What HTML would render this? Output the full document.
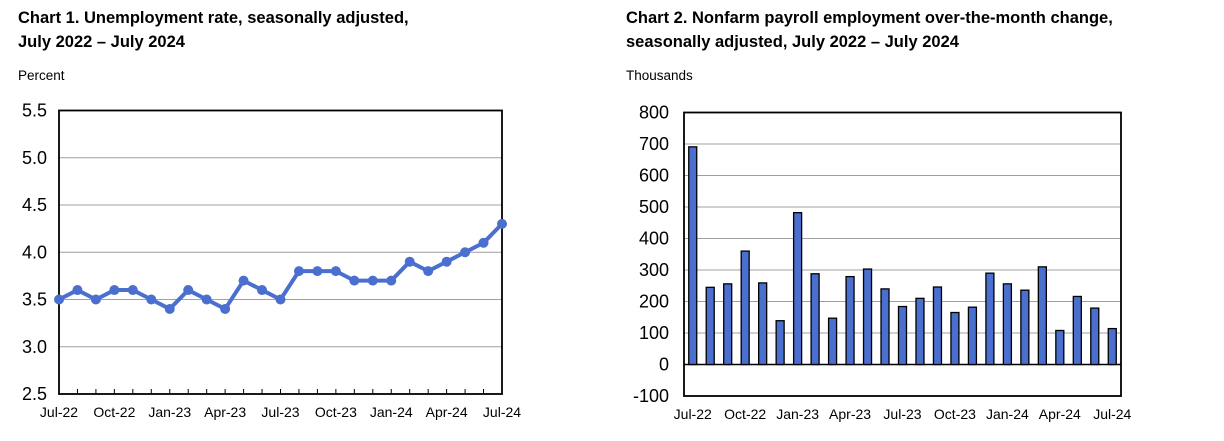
<!DOCTYPE html>
<html><head><meta charset="utf-8"><style>
body{margin:0;background:#fff;width:1224px;height:441px;overflow:hidden;font-family:"Liberation Sans",Arial,sans-serif}
.t{position:absolute;font-weight:bold;font-size:16.5px;line-height:24px;color:#000}
</style></head><body>
<div class="t" style="left:18px;top:6px">Chart 1. Unemployment rate, seasonally adjusted,<br>July 2022 – July 2024</div>
<div class="t" style="left:626px;top:6px">Chart 2. Nonfarm payroll employment over-the-month change,<br>seasonally adjusted, July 2022 – July 2024</div>
<svg id="s" width="1224" height="441" style="position:absolute;left:0;top:0" font-family="Liberation Sans, Arial, sans-serif"></svg>
<script>
const months=["Jul-22","Aug-22","Sep-22","Oct-22","Nov-22","Dec-22","Jan-23","Feb-23","Mar-23","Apr-23","May-23","Jun-23","Jul-23","Aug-23","Sep-23","Oct-23","Nov-23","Dec-23","Jan-24","Feb-24","Mar-24","Apr-24","May-24","Jun-24","Jul-24"];
const unemp=[3.5,3.6,3.5,3.6,3.6,3.5,3.4,3.6,3.5,3.4,3.7,3.6,3.5,3.8,3.8,3.8,3.7,3.7,3.7,3.9,3.8,3.9,4.0,4.1,4.3];
const payroll=[691,245,256,360,259,139,482,288,147,279,303,240,184,210,246,165,182,290,256,236,310,108,216,179,114];
const ticks1=["2.5","3.0","3.5","4.0","4.5","5.0","5.5"];
const ticks2=["-100","0","100","200","300","400","500","600","700","800"];
const NS="http://www.w3.org/2000/svg",svg=document.getElementById('s');
function mk(t,a,txt,p){const e=document.createElementNS(NS,t);for(const k in a)e.setAttribute(k,a[k]);if(txt!=null)e.textContent=txt;(p||svg).appendChild(e);return e;}
// Chart 1
const L1=59,R1=502,T1=110.5,B1=394;
const y1=v=>B1-(v-2.5)/3*(B1-T1);
const x1=i=>L1+i*(R1-L1)/(months.length-1);
let e=mk('text',{x:18,y:80,'font-size':13.5},'Percent');


ticks1.forEach(t=>{const v=+t,y=y1(v);
 if(v>2.5&&v<5.5){const g=mk('line',{x1:L1,x2:R1,y1:y,y2:y,stroke:'#a0a0a0','stroke-width':1});}
 const l=mk('text',{x:47,y:y+6,'font-size':18,'text-anchor':'end'},t);
 
 });
e=mk('rect',{x:L1,y:T1,width:R1-L1,height:B1-T1,fill:'none',stroke:'#000','stroke-width':1.8});


months.forEach((m,i)=>{const x=x1(i);mk('line',{x1:x,x2:x,y1:B1,y2:B1-5,stroke:'#000','stroke-width':1});
 if(i%3==0){const l=mk('text',{x:x,y:417,'font-size':14,'text-anchor':'middle'},m);
 
 }});
e=mk('polyline',{points:unemp.map((v,i)=>x1(i)+','+y1(v)).join(' '),fill:'none',stroke:'#4a6fcf','stroke-width':4,'stroke-linejoin':'round'});


unemp.forEach((v,i)=>{const c=mk('circle',{cx:x1(i),cy:y1(v),r:5,fill:'#4a6fcf'});
 
 });
// Chart 2
const L2=684,R2=1121,T2=112.5,B2=396;
const y2=v=>B2-(v+100)/900*(B2-T2);
const slot=(R2-L2)/months.length;
const x2=i=>L2+slot*(i+0.5);
e=mk('text',{x:626,y:80,'font-size':13.5},'Thousands');


ticks2.forEach(t=>{const v=+t,y=y2(v);
 if(v>-100&&v<800){const g=mk('line',{x1:L2,x2:R2,y1:y,y2:y,stroke:v==0?'#000':'#a0a0a0','stroke-width':v==0?1.5:1});}
 const l=mk('text',{x:669,y:y+6,'font-size':18,'text-anchor':'end'},t);
 
 });
payroll.forEach((v,i)=>{const b=mk('rect',{x:x2(i)-4,y:y2(v),width:8,height:y2(0)-y2(v),fill:'#4a6fcf',stroke:'#000','stroke-width':1.3});
 
 });
e=mk('rect',{x:L2,y:T2,width:R2-L2,height:B2-T2,fill:'none',stroke:'#000','stroke-width':1.8});


months.forEach((m,i)=>{if(i%3==0){const l=mk('text',{x:x2(i),y:419,'font-size':14,'text-anchor':'middle'},m);
 
 }});
</script>
</body></html>
